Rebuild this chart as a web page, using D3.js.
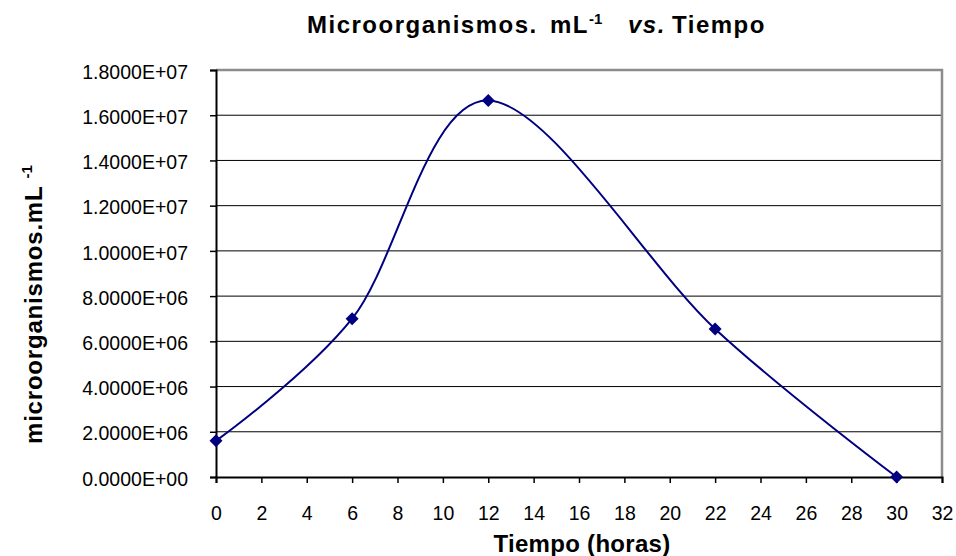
<!DOCTYPE html>
<html>
<head>
<meta charset="utf-8">
<script src="https://cdn.jsdelivr.net/npm/d3@7/dist/d3.min.js"></script>
<style>
  html, body { margin: 0; padding: 0; background: #fff; }
  svg { display: block; font-family: "Liberation Sans", Arial, sans-serif; }
</style>
</head>
<body>
<svg id="chart" width="956" height="556"></svg>
<script>
// Microbial count over time
const hours = [0, 6, 12, 22, 30];
const counts = [1.6e6, 7.0e6, 1.665e7, 6.55e6, 0];
const xTicks = d3.range(0, 33, 2);
const yTicks = d3.range(0, 1.8e7 + 1, 2e6);

const svg = d3.select("#chart");
const margin = { left: 216, right: 14, top: 70, bottom: 79 };
const W = 956, H = 556;

const x = d3.scaleLinear().domain([0, 32]).range([margin.left, W - margin.right]);
const y = d3.scaleLinear().domain([0, 1.8e7]).range([H - margin.bottom, margin.top]);

const fmtSci = v => {
  const e = v === 0 ? 0 : Math.floor(Math.log10(v));
  const m = v / Math.pow(10, e);
  return m.toFixed(4) + "E+" + String(e).padStart(2, "0");
};

// horizontal grid
svg.append("g").selectAll("line")
  .data(yTicks.filter(v => v > 0 && v < 1.8e7))
  .join("line")
  .attr("x1", x(0)).attr("x2", x(32))
  .attr("y1", d => y(d)).attr("y2", d => y(d))
  .attr("stroke", "#000").attr("stroke-width", 1);

// plot frame: grey top/right
svg.append("path")
  .attr("d", `M${x(0)},${y(1.8e7)}H${x(32)}V${y(0)}`)
  .attr("fill", "none").attr("stroke", "#8c8c8c").attr("stroke-width", 2.5);

// y axis
const yAxis = d3.axisLeft(y).tickValues(yTicks).tickFormat(fmtSci).tickSize(6).tickPadding(22);
const gy = svg.append("g").attr("transform", `translate(${x(0)},0)`).call(yAxis);
gy.select(".domain").attr("stroke", "#000").attr("stroke-width", 2);
gy.selectAll(".tick line").attr("stroke", "#000").attr("stroke-width", 1.5);
gy.selectAll(".tick text").attr("font-size", 19.5).attr("fill", "#000").attr("dy", "0.42em")
  .attr("font-family", "Liberation Sans, Arial, sans-serif");

// x axis
const xAxis = d3.axisBottom(x).tickValues(xTicks).tickSize(6).tickPadding(23);
const gx = svg.append("g").attr("transform", `translate(0,${y(0)})`).call(xAxis);
gx.select(".domain").attr("stroke", "#000").attr("stroke-width", 2);
gx.selectAll(".tick line").attr("stroke", "#000").attr("stroke-width", 1.5);
gx.selectAll(".tick text").attr("font-size", 19.5).attr("fill", "#000")
  .attr("font-family", "Liberation Sans, Arial, sans-serif");

// smoothed series
const pts = hours.map((h, i) => [h, counts[i]]);
svg.append("path")
  .datum(pts)
  .attr("fill", "none")
  .attr("stroke", "#000080")
  .attr("stroke-width", 2)
  .attr("d", d3.line().x(d => x(d[0])).y(d => y(d[1])).curve(d3.curveCatmullRom.alpha(0)));

// diamond markers
svg.append("g").selectAll("path")
  .data(pts)
  .join("path")
  .attr("transform", d => `translate(${x(d[0])},${y(d[1])})`)
  .attr("d", "M0,-6.5L6.5,0L0,6.5L-6.5,0Z")
  .attr("fill", "#000080");

// title
const title = svg.append("text")
  .attr("y", 33)
  .attr("font-size", 24).attr("font-weight", "bold").attr("fill", "#000")
  .attr("letter-spacing", 1.5);
title.append("tspan").attr("x", 307).text("Microorganismos.");
title.append("tspan").attr("x", 550).text("mL");
title.append("tspan").attr("dy", -9).attr("font-size", 15).attr("letter-spacing", 0).text("-1");
title.append("tspan").attr("x", 628).attr("dy", 9).attr("font-style", "italic").text("vs.");
title.append("tspan").attr("x", 672).text("Tiempo");

// x title
svg.append("text")
  .attr("x", 582).attr("y", 552)
  .attr("text-anchor", "middle")
  .attr("font-size", 24).attr("font-weight", "bold").attr("fill", "#000")
  .attr("letter-spacing", 0.3)
  .text("Tiempo (horas)");

// y title
const yt = svg.append("text")
  .attr("transform", "translate(42,444) rotate(-90)")
  .attr("font-size", 24).attr("font-weight", "bold").attr("fill", "#000")
  .attr("letter-spacing", 0.8);
yt.append("tspan").text("microorganismos.mL ");
yt.append("tspan").attr("dy", -10).attr("font-size", 15).attr("letter-spacing", 0).text("-1");
</script>
</body>
</html>
